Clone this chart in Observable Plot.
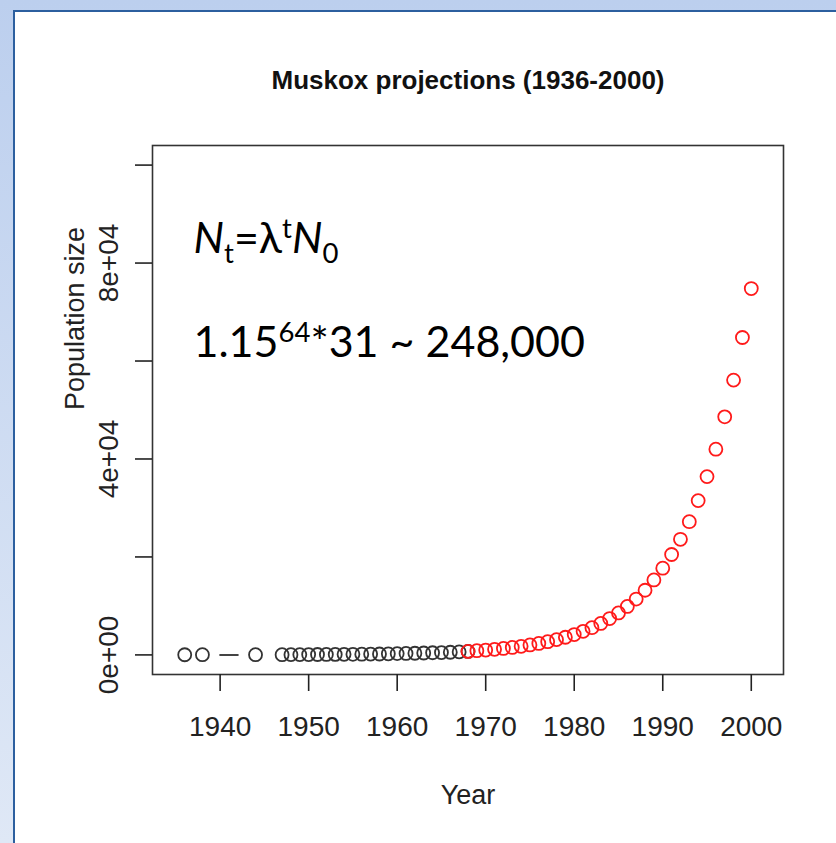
<!DOCTYPE html>
<html><head><meta charset="utf-8">
<script src="https://cdn.jsdelivr.net/npm/d3@7"></script>
<script src="https://cdn.jsdelivr.net/npm/@observablehq/plot@0.6"></script>
<style>
html,body{margin:0;padding:0;}
body{width:836px;height:843px;overflow:hidden;position:relative;background:linear-gradient(#bccfee,#dfe8f6);}
#panel{position:absolute;left:13px;top:10px;right:-10px;bottom:-10px;background:#fff;border-left:2px solid #2c5f9f;border-top:2px solid #2c5f9f;}
#chart{position:absolute;left:0;top:0;}
</style></head><body><div id="panel"></div><div id="chart"></div>
<script>
// ---- data ----
const title = "Muskox projections (1936-2000)";
const xLabel = "Year";
const yLabel = "Population size";
const observedYears = [1936, 1938, 1944, 1947, 1948, 1949, 1950, 1951, 1952, 1953, 1954, 1955, 1956, 1957, 1958, 1959, 1960, 1961, 1962, 1963, 1964, 1965, 1966, 1967, 1968];
const observedSize  = [31, 40, 48, 49, 56, 61, 73, 88, 96, 105, 113, 129, 148, 166, 186, 221, 263, 301, 336, 386, 436, 482, 546, 619, 714];
const gapYears = [1940, 1942];
const gapSize = [0, 0];
const projectedYears = d3.range(1968, 2001);
const projectedSize = [714, 860, 990, 1140, 1320, 1520, 1760, 2030, 2340, 2700, 3120, 3600, 4160, 4810, 5560, 6420, 7420, 8570, 9900, 11400, 13200, 15300, 17700, 20500, 23600, 27200, 31500, 36400, 42000, 48600, 56100, 64800, 74800];
const xTicks = [1940, 1950, 1960, 1970, 1980, 1990, 2000];
const yTicks = [0, 20000, 40000, 60000, 80000, 100000];
const yLabelTicks = [0, 40000, 80000];
const eqSegments = [["N","it"],["t","sub"],["=λ",""],["t","sup"],["N","it"],["0","sub"]];
const calcSegments = [["1.15",""],["64","sup"],["*31 ~ 248,000",""]];

const observed = observedYears.map((x, i) => ({x, y: observedSize[i]}));
const projected = projectedYears.map((x, i) => ({x, y: projectedSize[i]}));
const gap = gapYears.map((x, i) => ({x, y: gapSize[i]}));
const eqText = eqSegments.map(s => s[0]).join("");
const calcText = calcSegments.map(s => s[0]).join("");

const fmtSci = d => {
  if (d === 0) return "0e+00";
  const e = Math.floor(Math.log10(Math.abs(d)));
  const m = Math.round(d / 10 ** e);
  return `${m}e${e < 0 ? "-" : "+"}${String(Math.abs(e)).padStart(2, "0")}`;
};

const ink = "#222";
const plot = Plot.plot({
  width: 836, height: 843,
  marginLeft: 152, marginRight: 53, marginTop: 145, marginBottom: 169,
  style: {background: "transparent", fontFamily: "'Liberation Sans', Arial, Helvetica, sans-serif", overflow: "visible"},
  x: {domain: [1932.36, 2003.64], label: null},
  y: {domain: [-4000, 104000], label: null},
  marks: [
    Plot.frame({stroke: "#333", strokeWidth: 1.6}),
    Plot.axisX({ticks: xTicks, tickSize: 17, tickPadding: 25, tickFormat: d => String(d), fontSize: 28, color: ink, strokeWidth: 1.6, label: null}),
    Plot.axisY({ticks: yTicks, tickSize: 17, tickFormat: () => "", color: ink, strokeWidth: 1.6, label: null}),
    Plot.axisY({ticks: yLabelTicks, tickSize: 0, tickRotate: -90, tickPadding: 35, tickFormat: fmtSci, fontSize: 28, color: ink, label: null}),
    Plot.text([xLabel], {text: d => d, frameAnchor: "bottom", dy: 129, fontSize: 27, fill: ink}),
    Plot.text([yLabel], {text: d => d, frameAnchor: "left", dx: -77, rotate: -90, fontSize: 27, fill: ink}),
    Plot.text([title], {text: d => d, frameAnchor: "top", dy: -75, fontSize: 26, fontWeight: "bold", fill: "#111"}),
    Plot.line(gap, {x: "x", y: "y", stroke: "#444", strokeWidth: 2}),
    Plot.dot(observed, {x: "x", y: "y", r: 6.5, stroke: "#333", strokeWidth: 1.8}),
    Plot.dot(projected, {x: "x", y: "y", r: 6.5, stroke: "#ff1a1a", strokeWidth: 1.8}),
    Plot.text([eqText], {text: d => d, frameAnchor: "top-left", dx: 41, dy: 107, textAnchor: "start", lineAnchor: "bottom", fontFamily: "Lato, 'Open Sans', sans-serif", fontSize: 43, fill: "#000"}),
    Plot.text([calcText], {text: d => d, frameAnchor: "top-left", dx: 41, dy: 211, textAnchor: "start", lineAnchor: "bottom", fontFamily: "Lato, 'Open Sans', sans-serif", fontSize: 43, fill: "#000"})
  ]
});
document.getElementById("chart").appendChild(plot);

function richText(node, segs, size) {
  const sel = d3.select(node);
  sel.text(null);
  let prev = 0;
  for (const [t, role] of segs) {
    const shift = role === "sub" ? 0.24 * size : role === "sup" ? -0.34 * size : 0;
    const small = role === "sub" || role === "sup";
    sel.append("tspan")
      .attr("dy", shift - prev)
      .attr("font-size", small ? 0.64 * size : size)
      .attr("font-style", role === "it" ? "italic" : null)
      .text(t);
    prev = shift;
  }
}
plot.querySelectorAll("text").forEach(n => {
  if (n.textContent === eqText) richText(n, eqSegments, 43);
  else if (n.textContent === calcText) richText(n, calcSegments, 43);
});
</script></body></html>
